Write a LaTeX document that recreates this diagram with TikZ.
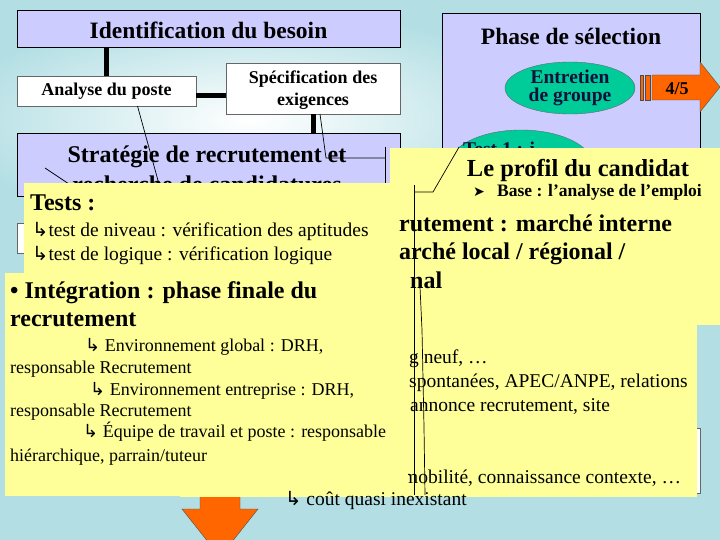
\documentclass[tikz,border=0pt]{standalone}
\usepackage{fontspec}
\setmainfont{Liberation Serif}
\newfontfamily\symfont{DejaVu Sans}
\usepackage{xcolor}
\usetikzlibrary{positioning, shapes.geometric}

\definecolor{bgcyan}{HTML}{B3DFE4}
\definecolor{lavbox}{HTML}{CCCCFF}
\definecolor{notey}{HTML}{FFFF99}
\definecolor{ovalgreen}{HTML}{00CC99}
\definecolor{ovaltext}{HTML}{10103A}
\definecolor{arrowor}{HTML}{FF6600}

\newcommand{\hookarr}{{\symfont ↳}}

\tikzset{
  phasebox/.style={draw=black, fill=lavbox, inner sep=0pt, outer sep=0pt},
  whitebox/.style={draw=black!60, fill=white, inner sep=0pt, outer sep=0pt},
  notebox/.style={fill=notey, inner sep=0pt, outer sep=0pt},
  oval/.style={ellipse, draw=black!60, fill=ovalgreen, inner sep=0pt, text=ovaltext, align=center,
    font=\bfseries\fontsize{19.5}{18}\selectfont},
  link/.style={line width=5pt},
  thinlink/.style={line width=0.7pt},
  txtline/.style={anchor=west, inner sep=0pt, text height=1.1em, text depth=0em},
}

\begin{document}
\begin{tikzpicture}[x=1pt, y=-1pt]
        \useasboundingbox (0,0) rectangle (720,540);
        \clip (0,0) rectangle (720,540);
        % background
        \fill[bgcyan] (0,0) rectangle (720,540);
        \shade[inner color=white, outer color=bgcyan] (250,120) ellipse [x radius=300pt, y radius=110pt];
        % besoin
        \node[phasebox, minimum width=383pt, minimum height=37pt] (ident) at (208.5,28.5) {};
        \node[font=\bfseries\fontsize{23.5}{26}\selectfont] (identtxt) at (208.5,30) {Identification du besoin};
        \node[whitebox, minimum width=179pt, minimum height=30pt, font=\bfseries\fontsize{18}{20}\selectfont] (analyse) at (106.5,91) {Analyse du poste};
        \node[whitebox, minimum width=174pt, minimum height=51pt] (spec) at (313,88.5) {};
        \node[align=center, font=\bfseries\fontsize{18}{22}\selectfont] (spectxt) at (313,90.5) {Spécification des\\exigences};
        \node[phasebox, minimum width=383pt, minimum height=63pt] (strat) at (208.5,164.5) {};
        \node[align=center, font=\bfseries\fontsize{24}{30}\selectfont] (strattxt) at (207,169) {Stratégie de recrutement et\\recherche de candidatures};
        \draw[link] (ident.south -| analyse.north) -- (analyse.north);
        \draw[link] ([yshift=-5pt]analyse.east) -- ([yshift=-5pt]analyse.east -| spec.west);
        \draw[link] (spec.south) -- (spec.south |- strat.north);
        % selection
        \node[phasebox, minimum width=258pt, minimum height=237pt] (phase) at (571,131.5) {};
        \node[font=\bfseries\fontsize{23.5}{26}\selectfont] (phasetxt) at (571,36) {Phase de sélection};
        \node[oval, minimum width=130pt, minimum height=52pt] (entretien) at (570,88) {Entretien\\de groupe};
        \fill[arrowor, draw=black!70] (640,75) rectangle (643,100);
        \fill[arrowor, draw=black!70] (645,75) rectangle (650,100);
        \filldraw[fill=arrowor, draw=black!70] (652,75) -- (700,75) -- (700,62) -- (720,87) -- (700,112) -- (700,100) -- (652,100) -- cycle;
        \node[font=\bfseries\fontsize{18}{20}\selectfont] (etape) at (677,89) {4/5};
        \node[oval, minimum width=145pt, minimum height=72pt] (testoval) at (521,166) {};
        \node[txtline, font=\bfseries\fontsize{19.5}{20}\selectfont, text=ovaltext] (testtxt) at (463,150) {Test 1 : i};
        % thin links
        \coordinate (a1) at (162,195);
        \coordinate (s1) at (326,158);
        \coordinate (s2) at (385,158);
        \coordinate (s3) at (385,147);
        \coordinate (s4) at (385,195);
        \coordinate (t1) at (45,168);
        \coordinate (t2) at (72,186);
        \draw[thinlink] ([xshift=31pt]analyse.south) -- (a1);
        \draw[thinlink] ([xshift=7pt]spec.south) -- (s1) -- (s2);
        \draw[thinlink] (s3) -- (s4);
        \draw[thinlink] (t1) -- (t2);
        \node[whitebox, minimum width=183pt, minimum height=30pt] (leftbox) at (108.5,238) {};
        % profil
        \node[notebox, minimum width=330pt, minimum height=177pt] (profil) at (555,236.5) {};
        \node[font=\bfseries\fontsize{24.5}{28}\selectfont] (profiltxt) at (578,170) {Le profil du candidat};
        \node[txtline, font=\symfont\fontsize{14}{16}\selectfont] (puce) at (473,191) {➤};
        \node[txtline, font=\bfseries\fontsize{17.5}{19}\selectfont] (base) at (497,191) {Base : l'analyse de l'emploi};
        \node[whitebox, minimum width=100pt, minimum height=65pt] (cachee) at (650,460.5) {};
        \filldraw[fill=arrowor, draw=black!70] (200,470) -- (240,470) -- (240,509) -- (258,509) -- (220,557) -- (182,509) -- (200,509) -- cycle;
        % marche
        \node[notebox, minimum width=517pt, minimum height=292pt] (marche) at (438.5,351) {};
        \node[txtline, font=\bfseries\fontsize{24}{26}\selectfont] (m1) at (399,226) {rutement : marché interne};
        \node[txtline, font=\bfseries\fontsize{24}{26}\selectfont] (m2) at (399,254) {arché local / régional /};
        \node[txtline, font=\bfseries\fontsize{24}{26}\selectfont] (m3) at (410,283) {nal};
        \node[txtline, font=\fontsize{19.5}{22}\selectfont] (m4) at (409,358) {g neuf, …};
        \node[txtline, font=\fontsize{19.5}{22}\selectfont] (m5) at (409,382) {spontanées, APEC/ANPE, relations};
        \node[txtline, font=\fontsize{19.5}{22}\selectfont] (m6) at (410,406) {annonce recrutement, site};
        \node[txtline, font=\fontsize{19.5}{22}\selectfont] (m7) at (403,478) {mobilité, connaissance contexte, …};
        % tests
        \node[notebox, minimum width=374pt, minimum height=117pt] (tests) at (211,241.5) {};
        \node[txtline, font=\bfseries\fontsize{24}{26}\selectfont] (teststitre) at (30,205) {Tests :};
        \node[txtline, font=\fontsize{19.5}{22}\selectfont] (test1) at (32,231) {\hookarr test de niveau : vérification des aptitudes};
        \node[txtline, font=\fontsize{19.5}{22}\selectfont] (test2) at (32,255) {\hookarr test de logique : vérification logique};
        % integration
        \node[notebox, minimum width=403pt, minimum height=223pt] (integ) at (206.5,384.5) {};
        \node[txtline, font=\bfseries\fontsize{24}{26}\selectfont] (integ1) at (10,293) {• Intégration : phase finale du};
        \node[txtline, font=\bfseries\fontsize{24}{26}\selectfont] (integ2) at (10,321) {recrutement};
        \node[txtline, font=\fontsize{18}{20}\selectfont] (env1) at (85,346) {\hookarr\ Environnement global : DRH,};
        \node[txtline, font=\fontsize{18}{20}\selectfont] (resp1) at (10,368) {responsable Recrutement};
        \node[txtline, font=\fontsize{18}{20}\selectfont] (env2) at (90,390) {\hookarr\ Environnement entreprise : DRH,};
        \node[txtline, font=\fontsize{18}{20}\selectfont] (resp2) at (10,411) {responsable Recrutement};
        \node[txtline, font=\fontsize{18}{20}\selectfont] (env3) at (83,432) {\hookarr\ Équipe de travail et poste : responsable};
        \node[txtline, font=\fontsize{18}{20}\selectfont] (hier) at (10,456) {hiérarchique, parrain/tuteur};
        % bracket lines
        \coordinate (r1) at (433,192);
        \coordinate (r2) at (414,192);
        \coordinate (v1) at (414,185);
        \coordinate (v2) at (414,495);
        \coordinate (w1) at (420,287);
        \coordinate (w2) at (422,330);
        \coordinate (w3) at (424,427);
        \coordinate (w4) at (425,495);
        \draw[thinlink] (testoval.163) -- (r1) -- (r2);
        \draw[thinlink] (v1) -- (v2);
        \draw[thinlink] (w1) -- (w2) -- (w3) -- (w4);
        \node[txtline, font=\fontsize{19.5}{22}\selectfont] (cout) at (285,500) {\hookarr\ coût quasi inexistant};
      \end{tikzpicture}
\end{document}
